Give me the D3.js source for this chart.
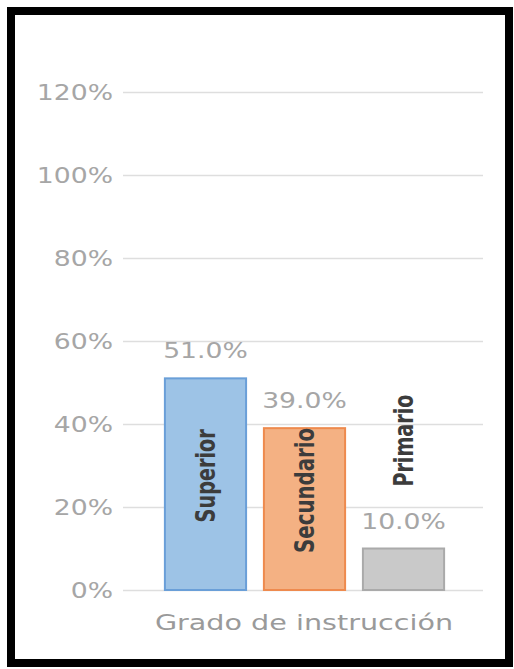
<!DOCTYPE html>
<html>
<head>
<meta charset="utf-8">
<script src="https://cdn.jsdelivr.net/npm/d3@7"></script>
<style>
  body { margin: 0; background: #fff; }
  svg { display: block; }
</style>
</head>
<body>
<svg id="chart" width="514" height="669"></svg>
<script>
// data
const categories = ["Superior", "Secundario", "Primario"];
const values = [51.0, 39.0, 10.0];
const yTicks = [0, 20, 40, 60, 80, 100, 120];
const axisTitle = "Grado de instrucción";
const fills = ["#9dc3e6", "#f4b183", "#c9c9c9"];
const strokes = ["#6a9fd8", "#ee8a4e", "#aaaaaa"];

const svg = d3.select("#chart");
svg.selectAll("*").remove();

// the source image is stretched sideways, so horizontal text gets widened too
const stretch = 1.3;
const font = "'DejaVu Sans', Verdana, sans-serif";

// frame
svg.append("rect")
    .attr("x", 11).attr("y", 11)
    .attr("width", 498).attr("height", 652)
    .attr("fill", "#fff")
    .attr("stroke", "#000")
    .attr("stroke-width", 8);

const x = d3.scaleBand()
    .domain(categories)
    .range([124.5, 484.5])
    .paddingInner(0.18)
    .paddingOuter(0.408);

const y = d3.scaleLinear()
    .domain([0, 120])
    .range([590, 92]);

function widen(sel) {
  sel.each(function () {
    const w = this.getComputedTextLength();
    d3.select(this)
        .attr("textLength", w * stretch)
        .attr("lengthAdjust", "spacingAndGlyphs");
  });
}

// gridlines + tick labels
const yAxis = d3.axisLeft(y)
    .tickValues(yTicks)
    .tickFormat(d => d + "%")
    .tickSize(-360)
    .tickPadding(10);

const gAxis = svg.append("g")
    .attr("transform", "translate(123,0)")
    .call(yAxis);
gAxis.select(".domain").remove();
gAxis.selectAll(".tick line")
    .attr("stroke", "#dedede")
    .attr("stroke-width", 1.3);
gAxis.selectAll(".tick text")
    .attr("fill", "#a6a6a6")
    .attr("font-family", font)
    .attr("font-size", 20.5)
    .attr("x", -10)
    .attr("dy", "0.36em")
    .call(widen);

// bars
svg.append("g")
    .selectAll("rect")
    .data(values)
    .join("rect")
    .attr("x", (d, i) => x(categories[i]))
    .attr("y", d => y(d))
    .attr("width", x.bandwidth())
    .attr("height", d => y(0) - y(d))
    .attr("fill", (d, i) => fills[i])
    .attr("stroke", (d, i) => strokes[i])
    .attr("stroke-width", 2);

// value labels
svg.append("g")
    .selectAll("text")
    .data(values)
    .join("text")
    .attr("x", (d, i) => x(categories[i]) + x.bandwidth() / 2)
    .attr("y", d => y(d) - 20)
    .attr("text-anchor", "middle")
    .attr("fill", "#a6a6a6")
    .attr("font-family", font)
    .attr("font-size", 20.5)
    .text(d => d.toFixed(1) + "%")
    .call(widen);

// rotated category names, centre heights in % units of the y scale
const labelMid = [27.5, 24, 36];
const labelLen = [93, 125, 92];
svg.append("g")
    .selectAll("text")
    .data(categories)
    .join("text")
    .attr("transform", (d, i) =>
      `translate(${x(d) + x.bandwidth() / 2},${y(labelMid[i])}) rotate(-90)`)
    .attr("text-anchor", "middle")
    .attr("dy", "0.35em")
    .attr("fill", "#3c3c3c")
    .attr("font-family", "'Liberation Sans Narrow', 'DejaVu Sans Condensed', sans-serif")
    .attr("font-weight", "bold")
    .attr("font-size", 27)
    .attr("textLength", (d, i) => labelLen[i])
    .attr("lengthAdjust", "spacingAndGlyphs")
    .text(d => d);

// axis title
svg.append("text")
    .attr("x", 304)
    .attr("y", 630)
    .attr("text-anchor", "middle")
    .attr("fill", "#9a9a9a")
    .attr("font-family", font)
    .attr("font-size", 22)
    .text(axisTitle)
    .call(widen);
</script>
</body>
</html>
